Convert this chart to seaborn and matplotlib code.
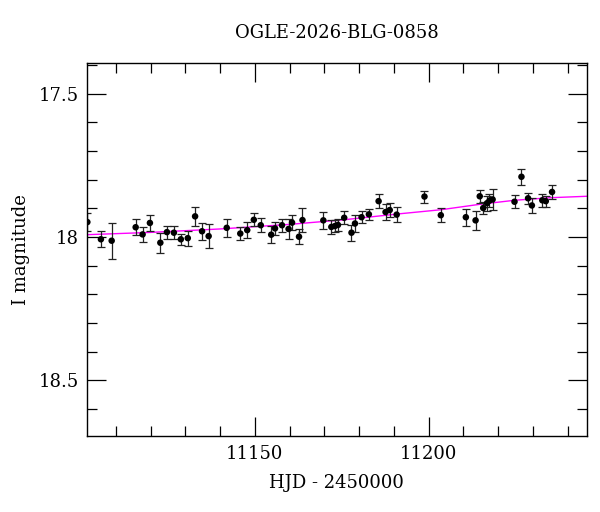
import matplotlib
matplotlib.use("Agg")
import matplotlib.pyplot as plt
import seaborn as sns
import pandas as pd
from matplotlib.ticker import MultipleLocator

# photometry
hjd = [11101.8, 11105.7, 11108.8, 11115.7, 11117.7, 11119.8, 11122.8, 11124.7, 11126.7, 11128.7,
       11130.7, 11132.8, 11134.8, 11136.7, 11141.9, 11145.8, 11147.8, 11149.7, 11151.7, 11154.7,
       11155.8, 11157.8, 11159.7, 11160.7, 11162.7, 11163.7, 11169.7, 11172.0, 11173.0, 11173.9,
       11175.7, 11177.8, 11178.8, 11180.7, 11182.8, 11185.6, 11187.6, 11188.8, 11190.8, 11198.8,
       11203.5, 11210.7, 11213.5, 11214.7, 11215.7, 11216.8, 11217.5, 11218.4, 11224.7, 11226.7,
       11228.6, 11229.7, 11232.7, 11233.7, 11235.5]
mag = [17.948, 18.008, 18.013, 17.966, 17.991, 17.951, 18.020, 17.983, 17.985, 18.008,
       18.004, 17.928, 17.980, 17.997, 17.968, 17.988, 17.976, 17.940, 17.959, 17.992,
       17.970, 17.959, 17.972, 17.950, 17.999, 17.941, 17.942, 17.965, 17.962, 17.958,
       17.933, 17.985, 17.953, 17.931, 17.921, 17.875, 17.913, 17.906, 17.922, 17.859,
       17.924, 17.931, 17.942, 17.858, 17.899, 17.882, 17.873, 17.869, 17.877, 17.790,
       17.865, 17.890, 17.872, 17.875, 17.843]
err = [0.030, 0.028, 0.063, 0.027, 0.025, 0.029, 0.035, 0.023, 0.022, 0.019,
       0.026, 0.032, 0.029, 0.042, 0.031, 0.023, 0.028, 0.023, 0.025, 0.029,
       0.023, 0.023, 0.034, 0.025, 0.027, 0.041, 0.029, 0.023, 0.022, 0.022,
       0.023, 0.028, 0.029, 0.021, 0.020, 0.024, 0.028, 0.025, 0.025, 0.021,
       0.024, 0.030, 0.032, 0.023, 0.022, 0.026, 0.023, 0.038, 0.023, 0.028,
       0.020, 0.027, 0.023, 0.019, 0.023]

# model curve
model_hjd = [11101.7, 11120, 11140, 11160, 11175.6, 11191.7, 11203.5, 11214.7, 11224.7, 11235, 11245.5]
model_mag = [17.992, 17.984, 17.972, 17.956, 17.940, 17.919, 17.905, 17.886, 17.872, 17.863, 17.858]

df = pd.DataFrame({'hjd': hjd, 'mag': mag, 'err': err})
model = pd.DataFrame({'hjd': model_hjd, 'mag': model_mag})

sns.set_style("ticks")
plt.rcParams['font.family'] = ['DejaVu Serif']
plt.rcParams['text.color'] = 'black'
plt.rcParams['axes.labelcolor'] = 'black'
plt.rcParams['xtick.color'] = 'black'
plt.rcParams['ytick.color'] = 'black'

fig = plt.figure(figsize=(6, 5.12), dpi=100)
ax = fig.add_axes([0.145, 0.148, 0.833, 0.729])

sns.lineplot(data=model, x='hjd', y='mag', color='#ff00ff', lw=1, ax=ax)
ax.errorbar(df['hjd'], df['mag'], yerr=df['err'], fmt='none', ecolor='#222222',
            elinewidth=0.9, capsize=2.8, capthick=0.9)
sns.scatterplot(data=df, x='hjd', y='mag', color='black', s=22, edgecolor='none', ax=ax, zorder=3)

ax.set_xlim(11101.7, 11245.5)
ax.set_ylim(18.695, 17.393)
ax.xaxis.set_major_locator(MultipleLocator(50))
ax.xaxis.set_minor_locator(MultipleLocator(10))
ax.yaxis.set_minor_locator(MultipleLocator(0.1))
ax.set_yticks([17.5, 18, 18.5])
ax.set_yticklabels(['17.5', '18', '18.5'])
ax.tick_params(which='both', direction='in', top=True, right=True, labelsize=13, width=0.9)
ax.tick_params(which='major', length=14, pad=6)
ax.tick_params(which='minor', length=7)
for s in ax.spines.values():
    s.set_linewidth(1)
    s.set_color('black')

ax.set_title('OGLE-2026-BLG-0858', fontsize=13, pad=18)
ax.set_xlabel('HJD - 2450000', fontsize=13, labelpad=8)
ax.set_ylabel('I magnitude', fontsize=13, labelpad=6)

plt.savefig('out.png', dpi=100)
plt.close()
